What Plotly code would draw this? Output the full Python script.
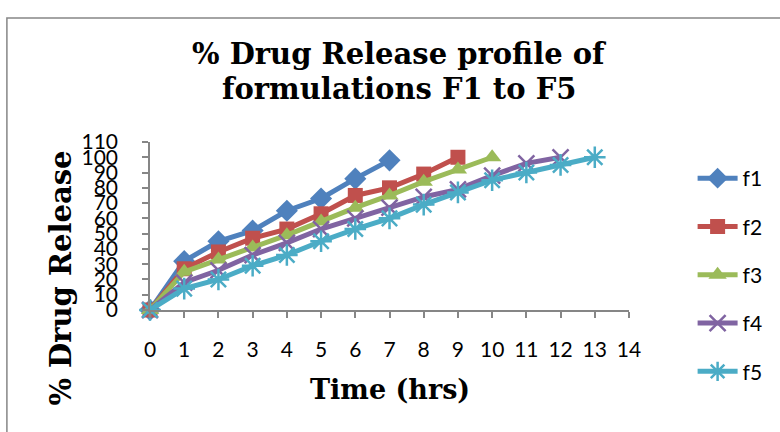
import plotly.graph_objects as go

# ---- data ----
hours = list(range(0, 15))
f1 = [0, 32, 45, 52, 65, 73, 86, 98]
f2 = [0, 27, 38, 47, 53, 63, 75, 80, 89, 100]
f3 = [0, 25, 33, 41, 49, 58, 67, 75, 84, 92, 100]
f4 = [0, 18, 26, 36, 44, 53, 60, 67, 74, 79, 88, 96, 100]
f5 = [0, 14, 20, 29, 36, 45, 53, 60, 69, 77, 85, 90, 95, 100]
series_names = ["f1", "f2", "f3", "f4", "f5"]
series_vals = [f1, f2, f3, f4, f5]
x_ticks = list(range(0, 15))
y_ticks = list(range(0, 111, 10))

colors = ["#4F81BD", "#C0504D", "#9BBB59", "#8064A2", "#4BACC6"]
symbols = ["diamond", "square", "triangle-up", "x-thin-open", "asterisk-open"]
sizes = [17, 15, 16, 16, 18]

W, H = 780, 432
L, R, T, B = 150, 148, 142, 122
pw, ph = W - L - R, H - T - B


def px_x(px):
    return (px - L) / pw


def px_y(py):
    return (H - B - py) / ph


fig = go.Figure()
for i, (name, vals) in enumerate(zip(series_names, series_vals)):
    open_sym = symbols[i].endswith("open")
    marker = dict(symbol=symbols[i], size=sizes[i], color=colors[i])
    if open_sym:
        marker["line"] = dict(color=colors[i], width=2.5)
    else:
        marker["line"] = dict(width=0)
    fig.add_trace(go.Scatter(
        x=hours[:len(vals)], y=vals, name=name, mode="lines+markers",
        line=dict(color=colors[i], width=5), marker=marker,
        cliponaxis=False, legendgroup=name,
    ))

tick_font = dict(family="Lato", size=21, color="#000000")
serif_bold = "DejaVu Serif"

fig.update_layout(
    width=W, height=H,
    margin=dict(l=L, r=R, t=T, b=B),
    paper_bgcolor="white", plot_bgcolor="white",
    showlegend=True,
    legend=dict(
        x=px_x(696), y=px_y(158), xanchor="left", yanchor="top",
        font=dict(family="Lato", size=21, color="#000000"),
        tracegroupgap=18, itemwidth=40, bgcolor="rgba(0,0,0,0)",
        maxheight=320,
    ),
    xaxis=dict(
        range=[0, 14], tickmode="array", tickvals=x_ticks,
        ticktext=[str(v) for v in x_ticks], tickangle=0,
        showline=True, linecolor="#868686", linewidth=1.5,
        ticks="outside", ticklen=6, tickcolor="#868686", tickwidth=1.5,
        showgrid=False, zeroline=False, tickfont=tick_font,
        ticklabelstandoff=14,
    ),
    yaxis=dict(
        range=[0, 110], tickmode="array", tickvals=y_ticks,
        ticktext=[str(v) for v in y_ticks],
        showline=True, linecolor="#868686", linewidth=1.5,
        ticks="outside", ticklen=6, tickcolor="#868686", tickwidth=1.5,
        showgrid=False, zeroline=False, tickfont=tick_font,
        ticklabelstandoff=20,
    ),
    annotations=[
        dict(text="<b>% Drug Release profile of</b>", xref="paper", yref="paper",
             x=px_x(401), y=px_y(54), xanchor="center", yanchor="middle",
             showarrow=False, font=dict(family=serif_bold, size=29, color="#000")),
        dict(text="<b>formulations F1 to F5</b>", xref="paper", yref="paper",
             x=px_x(401), y=px_y(89), xanchor="center", yanchor="middle",
             showarrow=False, font=dict(family=serif_bold, size=29, color="#000")),
        dict(text="<b>Time (hrs)</b>", xref="paper", yref="paper",
             x=px_x(392), y=px_y(389), xanchor="center", yanchor="middle",
             showarrow=False, font=dict(family=serif_bold, size=27, color="#000")),
        dict(text="<b>% Drug Release</b>", xref="paper", yref="paper",
             x=px_x(60), y=px_y(278), xanchor="center", yanchor="middle",
             textangle=-90, showarrow=False,
             font=dict(family=serif_bold, size=29, color="#000")),
    ],
    shapes=[
        dict(type="rect", xref="paper", yref="paper",
             x0=px_x(6), x1=px_x(800), y0=px_y(18), y1=px_y(460),
             line=dict(color="#868686", width=1.5), fillcolor="rgba(0,0,0,0)",
             layer="below"),
    ],
)

fig.write_html("out.html")
